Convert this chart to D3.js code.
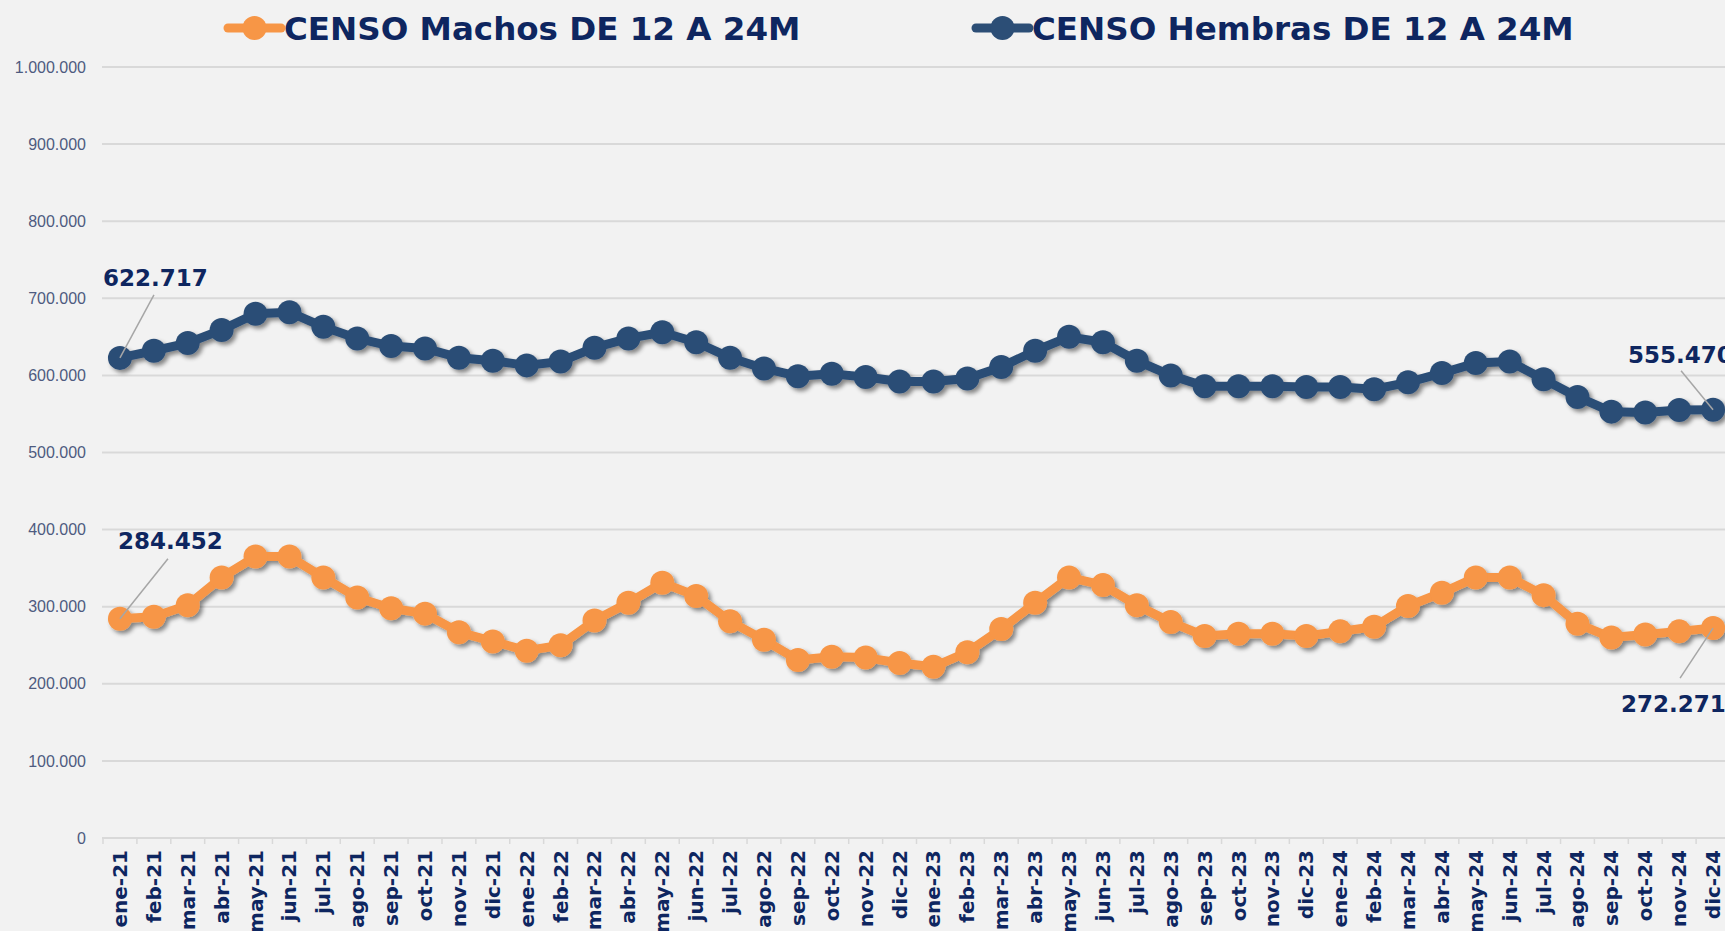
<!DOCTYPE html>
<html>
<head>
<meta charset="utf-8">
<script src="https://cdn.jsdelivr.net/npm/d3@7"></script>
<style>
  html, body { margin: 0; padding: 0; background: #F2F2F2; overflow: hidden; }
  #chart { width: 1725px; height: 931px; }
  .tick-y { font-family: "Liberation Sans", Arial, sans-serif; font-size: 16px; fill: #4E5B80; }
  .tick-x { font-family: "DejaVu Sans", sans-serif; font-weight: bold; font-size: 20px; fill: #0E2660; }
  .legend-text { font-family: "DejaVu Sans", sans-serif; font-weight: bold; font-size: 32.5px; fill: #0E2660; }
  .data-label { font-family: "DejaVu Sans", sans-serif; font-weight: bold; font-size: 23px; fill: #0E2660; }
</style>
</head>
<body>
<div id="chart"></div>
<script>
// ---------- data ----------
const months = [
  "ene-21","feb-21","mar-21","abr-21","may-21","jun-21","jul-21","ago-21","sep-21","oct-21","nov-21","dic-21",
  "ene-22","feb-22","mar-22","abr-22","may-22","jun-22","jul-22","ago-22","sep-22","oct-22","nov-22","dic-22",
  "ene-23","feb-23","mar-23","abr-23","may-23","jun-23","jul-23","ago-23","sep-23","oct-23","nov-23","dic-23",
  "ene-24","feb-24","mar-24","abr-24","may-24","jun-24","jul-24","ago-24","sep-24","oct-24","nov-24","dic-24"
];

const machos = [
  284452, 287000, 302000, 338000, 365000, 365000, 338000, 312000, 298000, 291000, 267000, 255000,
  243000, 250000, 282000, 305000, 331000, 314000, 281000, 257000, 231000, 235000, 234000, 227000,
  222000, 241000, 271000, 305000, 338000, 328000, 302000, 280000, 262000, 265000, 265000, 262000,
  268000, 274000, 301000, 318000, 338000, 338000, 315000, 278000, 260000, 264000, 268000, 272271
];

const hembras = [
  622717, 632000, 642000, 659000, 680000, 682000, 663000, 648000, 638000, 635000, 623000, 619000,
  613000, 618000, 636000, 648000, 656000, 643000, 623000, 609000, 599000, 602000, 598000, 592000,
  592000, 596000, 611000, 632000, 650000, 643000, 619000, 600000, 586000, 586000, 586000, 585000,
  585000, 582000, 591000, 603000, 616000, 618000, 595000, 572000, 553000, 552000, 555000, 555470
];

const yTicks = [0, 100000, 200000, 300000, 400000, 500000, 600000, 700000, 800000, 900000, 1000000];

const seriesNames = ["CENSO Machos DE 12 A 24M", "CENSO Hembras DE 12 A 24M"];
const seriesColors = ["#F79646", "#2C4E76"];

// ---------- layout ----------
const W = 1725, H = 931;
const plot = { left: 103, right: 1730, top: 67, bottom: 838 };

const svg = d3.select("#chart").append("svg")
  .attr("width", W).attr("height", H)
  .attr("viewBox", `0 0 ${W} ${H}`);

const defs = svg.append("defs");
defs.append("filter").attr("id", "shadow")
  .attr("x", "-20%").attr("y", "-20%").attr("width", "140%").attr("height", "140%")
  .append("feDropShadow")
  .attr("dx", 3).attr("dy", 3).attr("stdDeviation", 2.2)
  .attr("flood-color", "#000").attr("flood-opacity", 0.45);

const x = d3.scaleBand().domain(months).range([plot.left, plot.right]);
const y = d3.scaleLinear().domain([0, 1000000]).range([plot.bottom, plot.top]);
const cx = d => x(d) + x.bandwidth() / 2;

const fmt = d3.formatLocale({ decimal: ",", thousands: ".", grouping: [3], currency: ["", ""] }).format(",d");

// ---------- grid + y axis ----------
svg.append("g")
  .selectAll("line").data(yTicks).join("line")
  .attr("x1", plot.left - 1).attr("x2", plot.right)
  .attr("y1", d => y(d)).attr("y2", d => y(d))
  .attr("stroke", "#D9D9D9").attr("stroke-width", 2);

svg.append("g")
  .selectAll("text").data(yTicks).join("text")
  .attr("class", "tick-y")
  .attr("x", 86).attr("y", d => y(d))
  .attr("dy", "0.35em")
  .attr("text-anchor", "end")
  .text(d => fmt(d));

// ---------- x axis ----------
svg.append("g")
  .selectAll("line").data(months.concat(["_end"])).join("line")
  .attr("x1", (d, i) => plot.left + i * x.step())
  .attr("x2", (d, i) => plot.left + i * x.step())
  .attr("y1", plot.bottom).attr("y2", plot.bottom + 6)
  .attr("stroke", "#D9D9D9").attr("stroke-width", 1.5);

svg.append("g")
  .selectAll("text").data(months).join("text")
  .attr("class", "tick-x")
  .attr("transform", d => `translate(${cx(d)},${plot.bottom + 12}) rotate(-90)`)
  .attr("text-anchor", "end")
  .attr("dy", "0.35em")
  .text(d => d);

// ---------- series ----------
const series = [machos, hembras];
const line = d3.line().x((d, i) => cx(months[i])).y(d => y(d));

series.forEach((vals, si) => {
  const g = svg.append("g").attr("filter", "url(#shadow)");
  g.append("path")
    .datum(vals)
    .attr("d", line)
    .attr("fill", "none")
    .attr("stroke", seriesColors[si])
    .attr("stroke-width", 9)
    .attr("stroke-linejoin", "round");
  g.selectAll("circle").data(vals).join("circle")
    .attr("cx", (d, i) => cx(months[i]))
    .attr("cy", d => y(d))
    .attr("r", 12)
    .attr("fill", seriesColors[si]);
});

// ---------- data labels (first / last) ----------
const callouts = [
  { s: 1, i: 0, tx: -17, ty: -72, lx: 34, ly: -63 },
  { s: 0, i: 0, tx: -2, ty: -70, lx: 48, ly: -60 },
  { s: 1, i: 47, tx: -85, ty: -47, lx: -32, ly: -39 },
  { s: 0, i: 47, tx: -92, ty: 84, lx: -33, ly: 50 }
];

callouts.forEach(c => {
  const v = series[c.s][c.i];
  const px = cx(months[c.i]), py = y(v);
  svg.append("line")
    .attr("x1", px + c.lx).attr("y1", py + c.ly)
    .attr("x2", px).attr("y2", py)
    .attr("stroke", "#A6A6A6").attr("stroke-width", 1.5);
  svg.append("text")
    .attr("class", "data-label")
    .attr("x", px + c.tx).attr("y", py + c.ty)
    .text(fmt(v));
});

// ---------- legend ----------
const legendX = [228, 976];
seriesNames.forEach((name, i) => {
  const g = svg.append("g").attr("transform", `translate(${legendX[i]},28)`);
  g.append("line")
    .attr("x1", 0).attr("x2", 53).attr("y1", 0).attr("y2", 0)
    .attr("stroke", seriesColors[i]).attr("stroke-width", 9).attr("stroke-linecap", "round");
  g.append("circle").attr("cx", 26.5).attr("cy", 0).attr("r", 12).attr("fill", seriesColors[i]);
  g.append("text")
    .attr("class", "legend-text")
    .attr("x", 56).attr("y", 12)
    .text(name);
});
</script>
</body>
</html>
